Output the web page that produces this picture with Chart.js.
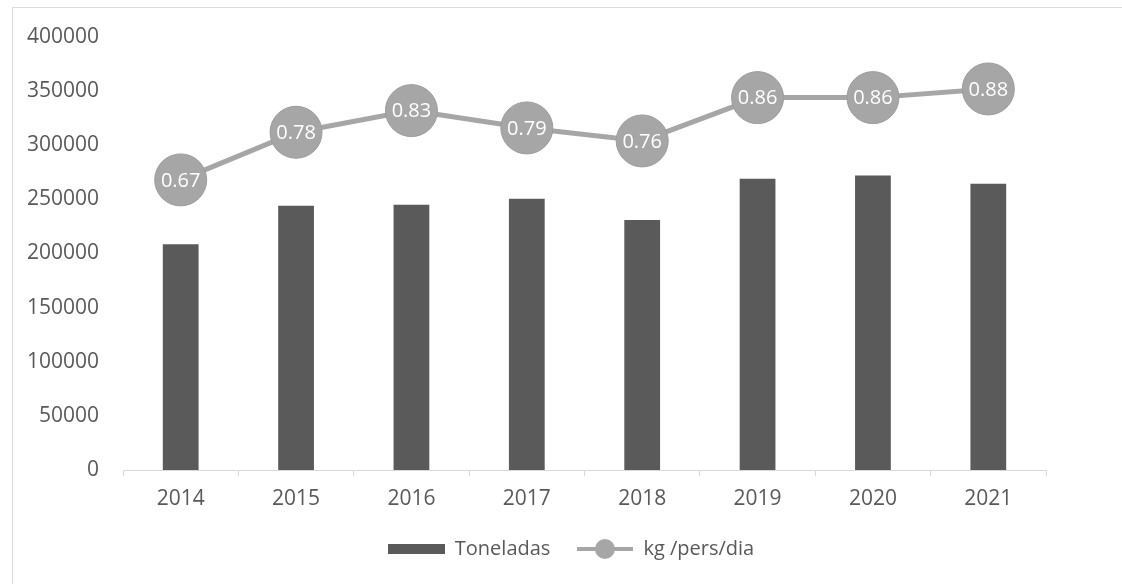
<!DOCTYPE html>
<html>
<head>
<meta charset="utf-8">
<script src="https://cdn.jsdelivr.net/npm/chart.js@4.4.1/dist/chart.umd.min.js"></script>
<style>
  html, body { margin: 0; padding: 0; background: #fff; }
  #wrap { position: relative; width: 1122px; height: 584px; }
  #frame { position: absolute; left: 12px; top: 7px; right: 0; bottom: 0;
           border-top: 1px solid #dcdcdc; border-left: 1px solid #dcdcdc; }
  canvas { position: absolute; left: 0; top: 0; }
</style>
</head>
<body>
<div id="wrap">
  <div id="frame"></div>
  <canvas id="chart" width="1122" height="584"></canvas>
</div>
<script>
// data
const years = ["2014", "2015", "2016", "2017", "2018", "2019", "2020", "2021"];
const toneladas = [208500, 244000, 245000, 250500, 231000, 269000, 272000, 264500];
const kgPersDia = [0.67, 0.78, 0.83, 0.79, 0.76, 0.86, 0.86, 0.88];

const textColor = "#595959";
const barColor = "#5a5a5a";
const lineColor = "#a6a6a6";
const fontFamily = "'Open Sans', sans-serif";

// legend swatches
function barSwatch() {
    const c = document.createElement("canvas");
    c.width = 57; c.height = 10;
    const g = c.getContext("2d");
    g.fillStyle = barColor;
    g.fillRect(0, 0, 57, 10);
    return c;
}
function lineSwatch() {
    const c = document.createElement("canvas");
    c.width = 56; c.height = 22;
    const g = c.getContext("2d");
    g.strokeStyle = lineColor;
    g.lineWidth = 4;
    g.beginPath(); g.moveTo(0, 11); g.lineTo(56, 11); g.stroke();
    g.fillStyle = lineColor;
    g.beginPath(); g.arc(28, 11, 10, 0, Math.PI * 2); g.fill();
    return c;
}

// white value labels inside the line markers
const pointLabels = {
    id: "pointLabels",
    afterDatasetsDraw(chart) {
        const ctx = chart.ctx;
        const meta = chart.getDatasetMeta(1);
        ctx.save();
        ctx.font = "20px " + fontFamily;
        ctx.fillStyle = "#ffffff";
        ctx.textAlign = "center";
        ctx.textBaseline = "middle";
        meta.data.forEach(function (pt, i) {
            ctx.fillText(kgPersDia[i].toFixed(2), pt.x, pt.y + 1);
        });
        ctx.restore();
    }
};

const ctx = document.getElementById("chart").getContext("2d");
new Chart(ctx, {
    data: {
        labels: years,
        datasets: [{
            type: "bar",
            label: "Toneladas",
            data: toneladas,
            backgroundColor: barColor,
            categoryPercentage: 1,
            barPercentage: 0.31,
            yAxisID: "y",
            order: 2
        }, {
            type: "line",
            label: "kg /pers/dia",
            data: kgPersDia,
            borderColor: lineColor,
            borderWidth: 5,
            pointRadius: 26,
            pointHoverRadius: 26,
            pointBackgroundColor: lineColor,
            pointBorderColor: "#9c9c9c",
            pointBorderWidth: 1,
            tension: 0,
            yAxisID: "y2",
            order: 1
        }]
    },
    options: {
        responsive: false,
        animation: false,
        layout: { padding: { top: 37, right: 0, bottom: 15, left: 20 } },
        scales: {
            x: {
                offset: true,
                grid: {
                    display: true,
                    offset: true,
                    drawOnChartArea: false,
                    drawTicks: true,
                    tickLength: 6,
                    color: "#d9d9d9"
                },
                border: { display: true, color: "#d9d9d9", width: 1 },
                ticks: {
                    color: textColor,
                    padding: 10,
                    font: { family: fontFamily, size: 21 }
                },
                afterFit: function (scale) { scale.height = 43; }
            },
            y: {
                position: "left",
                min: 0,
                max: 400000,
                grid: { display: false },
                border: { display: false },
                ticks: {
                    stepSize: 50000,
                    color: textColor,
                    padding: 16,
                    font: { family: fontFamily, size: 21 },
                    callback: function (v) { return String(v); }
                },
                afterFit: function (scale) { scale.width = 103; }
            },
            // hidden secondary axis for the kg/pers/dia line; its box keeps the right margin
            y2: {
                position: "right",
                min: 0,
                max: 1,
                grid: { display: false },
                border: { display: false },
                ticks: { display: false },
                afterFit: function (scale) { scale.width = 76; }
            }
        },
        plugins: {
            legend: {
                position: "bottom",
                labels: {
                    color: textColor,
                    font: { family: fontFamily, size: 20 },
                    usePointStyle: true,
                    pointStyleWidth: 57,
                    padding: 26,
                    generateLabels: function (chart) {
                        const swatches = [barSwatch(), lineSwatch()];
                        return chart.data.datasets.map(function (ds, i) {
                            return {
                                text: ds.label,
                                fillStyle: "transparent",
                                strokeStyle: "transparent",
                                lineWidth: 0,
                                pointStyle: swatches[i],
                                fontColor: textColor,
                                datasetIndex: i,
                                hidden: false
                            };
                        });
                    }
                }
            },
            tooltip: { enabled: false }
        }
    },
    plugins: [pointLabels]
});
</script>
</body>
</html>
